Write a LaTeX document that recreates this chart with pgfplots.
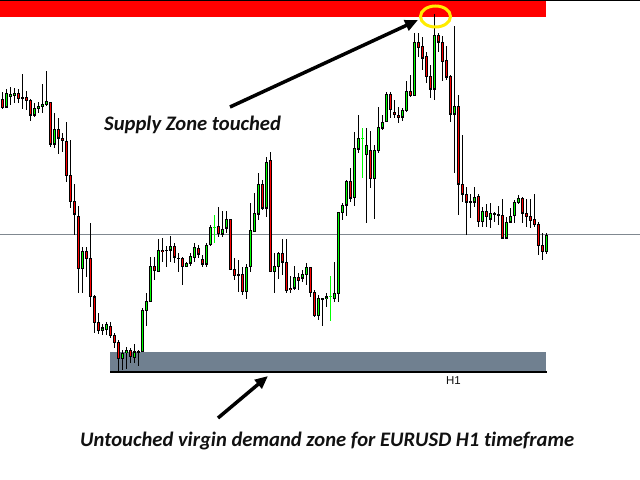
\documentclass[border=0pt]{standalone}
\usepackage{fontspec}
\setmainfont{Carlito}[Ligatures=CommonOff]
\newfontfamily\labelfont{Liberation Sans}
\usepackage{pgfplots}
\usepackage{pgfplotstable}
\pgfplotsset{compat=1.18}
\usetikzlibrary{arrows.meta}

\definecolor{bull}{RGB}{0,255,0}
\definecolor{bear}{RGB}{255,0,0}
\definecolor{zonegrey}{RGB}{112,128,144}
\definecolor{midline}{RGB}{128,136,144}
\definecolor{ring}{RGB}{255,236,0}
\definecolor{ink}{RGB}{17,17,17}

% EURUSD H1 candles, screen units (y grows downwards)
% i = bar index, wt/wb = wick top/bottom, bt/bb = body top/bottom
\pgfplotstableread{
i wt bt bb wb
1 89.3 93.3 107.3 108
2 86.7 94 96.3 105
3 88.3 93 96 103.3
8 103 108.3 115.3 117.3
9 102 106.3 108.3 113.3
10 84 104.3 106.3 113.3
11 71 101.7 104.3 105.7
13 113.3 129.3 144.3 147.7
20 246.7 251 268.3 293.3
25 324 327.7 330.3 335
26 321.7 324.3 330 335
30 350 353 358.3 370
31 346.7 350.3 352.7 369.3
33 344 351.7 357.3 363.3
34 350 351 352.3 365.7
35 308.3 310 351.7 352.3
36 293.3 301 310.7 325.7
37 256.7 266 301.7 302.3
39 239 250.3 271.7 271.7
41 246 250 251 266.7
42 236 246.3 250.3 261.7
44 252.7 258 258.7 271.7
46 261.7 263.3 266.7 266.7
47 253.3 256.7 263.3 266
48 243.3 247.3 257.3 261.7
51 243.3 245.3 264.3 266.7
52 225 227.3 245 245.7
55 210.7 229.3 234.3 236.7
56 211 219.3 228.3 233.3
59 260 274.3 275.3 291.7
61 264 267 291.7 299.3
62 203.3 230 266.7 271.7
63 193.3 213.3 231.7 231.7
64 173.3 184.3 214.3 220
66 156.7 162.7 208.3 216.7
68 252.7 266.7 271.7 293.3
69 251.7 253.3 266.7 279.3
73 266 277.3 288.3 290
75 270 274 278.3 281.7
76 263.3 267.3 274.3 285
79 295 298.3 316 320
80 297.7 298 299 326
81 292.7 296.7 299 307.3
83 262.3 293.3 299 301.7
84 211.7 212.7 293.3 301.7
85 202.7 205.3 212.7 220
86 180 181.7 205.3 216
88 132.3 148.3 197.7 206
89 115 138.3 149.3 153.3
91 128 145 155 223.3
93 145 150.7 179 219.3
94 106.7 127.3 150.7 153.3
95 115 122.3 128.3 130
96 92.3 94.3 121.7 122.3
100 108.3 110.7 117.3 120.7
101 81 91.7 110.7 111.7
103 33.3 42.3 95.7 95.7
108 14.3 35.7 89.3 100
113 26 106 114.3 173.3
117 194.3 201.7 202.7 218.3
118 186.7 197.3 202.3 206.7
120 206.7 211.7 221.7 226.7
122 202.7 213.3 219.3 228.3
123 211.7 213.3 214.3 221.7
126 216.7 222.3 238.3 239
127 208.3 216 222.3 223.3
128 200 202.7 216 223.3
129 195 198 202.7 204
136 233.3 235 251.7 254
}\bullish

\pgfplotstableread{
i wt bt bb wb
0 92.3 99.3 107.7 108.7
4 89 93 98.7 102.7
5 74 97.3 98.3 108.7
6 91 97.3 100.3 110
7 99 100.7 115.3 121.3
12 101.7 102.3 144.3 146.7
14 118.3 129.3 138.3 154.3
15 133.3 138.3 140.7 151.7
16 122 141 175.7 181.7
17 140 175.3 201.7 208.3
18 184 201.7 214.3 235
19 205.7 216 268.3 292.7
21 246.7 251 259 276.7
22 223.3 258.3 296.7 306.7
23 295 296.7 322.3 333.3
24 313.3 322.3 330.7 334
27 321.7 326 335.7 337.7
28 332.7 335 342.7 347.7
29 340 342 358.3 371.7
32 347.7 350 356.7 363.3
38 256.7 266 270.7 280
40 238.3 250 251.7 261.7
43 243.3 246.3 257.3 263.3
45 256.7 258.3 266.7 285
49 245 248.3 254.3 258.3
50 255 259 264.3 266.7
54 206.7 226.7 233.7 236.7
57 218.7 219.3 269.3 270
58 258.3 269.3 275.7 280
60 266.7 274.3 291.7 295
65 180 184.3 208.3 210
67 151.7 160.7 271.7 271.7
70 239.3 253.3 262.3 275
71 239.3 262.3 290.7 292.7
72 276 288.3 290 293.3
74 272.7 277.3 280.7 290
77 266.7 267.3 292.7 296.7
78 290 292.7 316 316.7
87 168.3 181.7 198.3 201.7
92 131 150.7 179 188
97 92.3 94.3 110 117.7
98 100 112.3 114.3 118.3
99 106.7 115 117.3 123.3
102 75 91 95.7 96.7
104 33.3 42.3 47.7 56.7
105 36.7 46.7 58.3 70
106 51.7 56.7 76.7 83.3
107 65 76 89.3 97.7
109 33.3 35.7 42.3 51.7
110 36 42 61.7 81
111 46 60 77.3 80
112 75 76.7 114.3 121.7
114 95 106 184.3 215
115 135 184.3 194.3 201.7
116 186.7 194.3 202.3 235
119 194 196 221.7 226.7
121 204 211.7 216.7 226.7
124 206 214 215.3 225
125 199.3 215.3 238.3 238.3
130 196.7 198 213.3 223.3
131 199.3 213.3 216.7 226.7
132 199.3 216 220.7 228.3
133 194 219.3 225 226.7
134 222.3 224 245.7 255
135 233.3 245 251.7 260
}\bearish

% bars with open = close
\pgfplotstableread{
i wt lv wb
53 215 227.3 243.3
82 276 296.7 320.7
90 128.3 138.3 177.7
}\flat

\pgfplotsset{
  table/bar x/.style={x expr=2.5+4*\thisrow{i}},
  candle part/.style 2 args={mark=none, draw=none, forget plot,
    error bars/.cd, y dir=both, y explicit, error mark=none,
    error bar style={draw=#1, line width=#2, line cap=butt}},
}

\begin{document}
\begin{tikzpicture}
\begin{axis}[
  width=640bp, height=480bp, scale only axis,
  xmin=0, xmax=640, ymin=0, ymax=480, y dir=reverse,
  axis lines=none, ticks=none,
  axis background/.style={fill=white},
]
% supply zone and demand zone
\fill[bear] (axis cs:0,1) rectangle (axis cs:546,17);
\draw[black, line width=1.5bp] (axis cs:0,0.75) -- (axis cs:640,0.75);
\fill[zonegrey] (axis cs:110,352) rectangle (axis cs:546,372);
\draw[black, line width=2bp] (axis cs:110,372) -- (axis cs:547,372);
% level line
\draw[midline, line width=1bp] (axis cs:0,235) -- (axis cs:640,235);

% wicks
\addplot[candle part={black}{1bp}]
  table[bar x, y expr=(\thisrow{wt}+\thisrow{wb})/2,
        y error expr=(\thisrow{wb}-\thisrow{wt})/2] {\bullish};
\addplot[candle part={black}{1bp}]
  table[bar x, y expr=(\thisrow{wt}+\thisrow{wb})/2,
        y error expr=(\thisrow{wb}-\thisrow{wt})/2] {\bearish};
\addplot[candle part={bull}{1bp}]
  table[bar x, y expr=(\thisrow{wt}+\thisrow{wb})/2,
        y error expr=(\thisrow{wb}-\thisrow{wt})/2] {\flat};
\addplot[only marks, mark=-, mark size=1.7bp, forget plot,
  mark options={draw=bull, line width=1bp}]
  table[bar x, y=lv] {\flat};

% bodies: black outline, coloured inside
\addplot[candle part={black}{3.4bp}]
  table[bar x, y expr=(\thisrow{bt}+\thisrow{bb})/2,
        y error expr=(\thisrow{bb}-\thisrow{bt})/2+0.3] {\bullish};
\addplot[candle part={black}{3.4bp}]
  table[bar x, y expr=(\thisrow{bt}+\thisrow{bb})/2,
        y error expr=(\thisrow{bb}-\thisrow{bt})/2+0.3] {\bearish};
\addplot[candle part={bull}{1.6bp}]
  table[bar x, y expr=(\thisrow{bt}+\thisrow{bb})/2,
        y error expr={max((\thisrow{bb}-\thisrow{bt})/2-0.8,0)}] {\bullish};
\addplot[candle part={bear}{1.6bp}]
  table[bar x, y expr=(\thisrow{bt}+\thisrow{bb})/2,
        y error expr={max((\thisrow{bb}-\thisrow{bt})/2-0.8,0)}] {\bearish};

% annotations
\draw[ring, line width=3bp] (axis cs:435.5,16.5) ellipse [x radius=15bp, y radius=10.5bp];
\draw[black, line width=3.5bp, -{Triangle[length=13bp, width=11bp]}]
  (axis cs:230,107) -- (axis cs:418,20);
\draw[black, line width=3.5bp, -{Triangle[length=13bp, width=11bp]}]
  (axis cs:218,418) -- (axis cs:268,376);
\node[anchor=base west, inner sep=0, text=ink,
  font=\fontsize{20.7}{24}\selectfont\bfseries\itshape]
  at (axis cs:104,131) {Supply Zone touched};
\node[anchor=base west, inner sep=0, text=ink,
  font=\fontsize{20.7}{24}\selectfont\bfseries\itshape]
  at (axis cs:80,446) {Untouched virgin demand zone for EURUSD H1 timeframe};
\node[anchor=base west, inner sep=0, text=ink,
  font=\labelfont\fontsize{11.5}{13}\selectfont]
  at (axis cs:446,384.5) {H1};
\end{axis}
\end{tikzpicture}
\end{document}
